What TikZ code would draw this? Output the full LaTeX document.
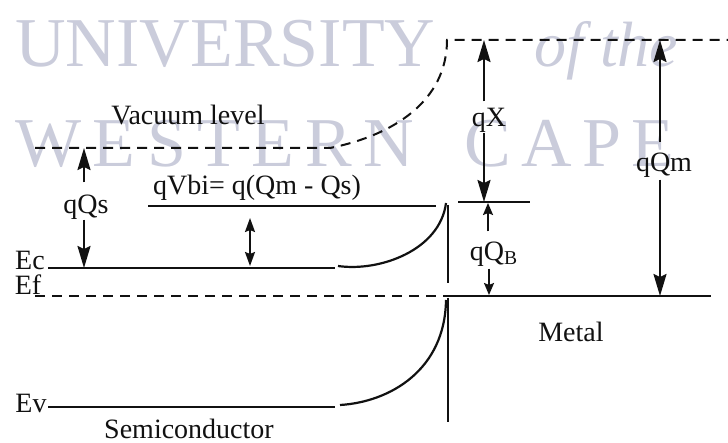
\documentclass[tikz,border=0pt]{standalone}
\usepackage{fontspec}
\setmainfont{Liberation Serif}
\usetikzlibrary{arrows.meta}
\usetikzlibrary{positioning}
\definecolor{sbMark}{RGB}{202,204,219}
\definecolor{sbInk}{HTML}{111111}
\tikzset{
  sb level/.style={
    draw=sbInk,
    line width=1.1pt,
  },
}
\tikzset{
  sb dashed/.style={
    draw=sbInk,
    line width=1pt,
    dash pattern=on 5pt off 3.5pt,
  },
}
\tikzset{
  sb label/.style={
    inner sep=0pt,
    text=sbInk,
    font=\fontsize{14}{16}\selectfont,
  },
}
\tikzset{
  sb arrow/.style={
    -{Stealth[length=11pt,width=6.5pt,inset=1.5pt]},
    draw=sbInk,
    line width=1pt,
  },
}
\tikzset{
  sb small arrow/.style={
    -{Stealth[length=6pt,width=5pt,inset=1pt]},
    draw=sbInk,
    line width=1pt,
  },
}
\tikzset{
  sb mark/.style={
    inner sep=0pt,
    text=sbMark,
    font=\fontsize{35}{40}\selectfont,
  },
}
\tikzset{
  sb figure/.style={
    x=0.5pt,
    y=-0.5pt,
  },
}

\begin{document}
\begin{tikzpicture}[sb figure]
  \useasboundingbox (0,0) rectangle (728,443);

  % =========================================================================
  % Watermark behind the diagram
  % =========================================================================
  \node[sb mark, anchor=base west] (markUniv) at (15,67)
    {\makebox[202.5pt][s]{U\hfill N\hfill I\hfill V\hfill E\hfill R\hfill S\hfill I\hfill T\hfill Y}};
  \node[sb mark, anchor=base west, font=\fontsize{32}{36}\selectfont\itshape] (markOf) at (534,67) {of the};
  \node[sb mark, anchor=base west] (markWest) at (15,167)
    {\makebox[199.5pt][s]{W\hfill E\hfill S\hfill T\hfill E\hfill R\hfill N}};
  \node[sb mark, anchor=base west] (markCape) at (464,167)
    {\makebox[105pt][s]{C\hfill A\hfill P\hfill E}};

  % =========================================================================
  % Level coordinates
  % =========================================================================
  \coordinate (vacL)   at (35,148);
  \coordinate (vacR)   at (728,40);
  \coordinate (ecL)    at (48,268);
  \coordinate (ecR)    at (335,268);
  \coordinate (evL)    at (48,407);
  \coordinate (evR)    at (335,407);
  \coordinate (efL)    at (35,296);
  \coordinate (iface)  at (448,296);
  \coordinate (metalR) at (711,296);
  \coordinate (vbiL)   at (148,206);
  \coordinate (vbiR)   at (436,206);
  \coordinate (barL)   at (458,202);
  \coordinate (barR)   at (530,202);

  % =========================================================================
  % Vacuum level (dashed, bending up to the metal side)
  % =========================================================================
  \draw[sb dashed]
    (vacL) -- (330,148)
    .. controls (395,135) and (447,100) .. (447,40)
    -- (vacR);
  \node[sb label] (vacuum) at (188,115) {Vacuum level};

  % =========================================================================
  % Semiconductor bands
  % =========================================================================
  \draw[sb level] (ecL) -- (ecR);
  \draw[sb level] (338,266) .. controls (380,272) and (440,250) .. (446,203);
  \draw[sb level] (evL) -- (evR);
  \draw[sb level] (340,405) .. controls (390,402) and (445,370) .. (446,300);
  \draw[sb level] (vbiL) -- (vbiR);
  \draw[sb dashed] (efL) -- (iface);

  \node[sb label] (ec) at (30,260) {Ec};
  \node[sb label] (ef) at (28,285) {Ef};
  \node[sb label] (ev) at (31,403) {Ev};
  \node[sb label] (semi) at (189,429) {Semiconductor};

  % =========================================================================
  % Interface and metal
  % =========================================================================
  \draw[sb level, line width=0.9pt] (448,205) -- (448,283);
  \draw[sb level, line width=0.9pt] (448,298) -- (448,422);
  \draw[sb level] (iface) -- (metalR);
  \draw[sb level, line width=0.9pt] (barL) -- (barR);
  \node[sb label] (metal) at (571,332) {Metal};

  % =========================================================================
  % qQs
  % =========================================================================
  \coordinate (qsTop) at (84,148);
  \coordinate (qsBot) at (84,268);
  \node[sb label] (lQs) at (86,207) {qQs};
  \draw[sb arrow] ([yshift=6pt]lQs.north -| qsTop) -- (qsTop);
  \draw[sb arrow] (lQs.south -| qsTop) -- (qsBot);

  % =========================================================================
  % qVbi
  % =========================================================================
  \node[sb label] (lVbi) at (257,188) {qVbi= q(Qm - Qs)};
  \coordinate (vbiTop) at (250,218);
  \coordinate (vbiBot) at (250,266);
  \draw[{Stealth[length=7pt,width=5pt,inset=1pt]}-{Stealth[length=7pt,width=5pt,inset=1pt]},
        draw=sbInk, line width=1pt] (vbiTop) -- (vbiBot);

  % =========================================================================
  % qX
  % =========================================================================
  \coordinate (xTop) at (484,40);
  \coordinate (xBot) at (484,202);
  \node[sb label] (lX) at (489,120) {qX};
  \draw[sb arrow] ([yshift=3pt]lX.north -| xTop) -- (xTop);
  \draw[sb arrow] (lX.south -| xTop) -- (xBot);

  % =========================================================================
  % qQm
  % =========================================================================
  \coordinate (qmTop) at (660,40);
  \coordinate (qmBot) at (660,296);
  \node[sb label] (lQm) at (664,165) {qQm};
  \draw[sb arrow] ([yshift=5pt]lQm.north -| qmTop) -- (qmTop);
  \draw[sb arrow] ([yshift=-1pt]lQm.south -| qmTop) -- (qmBot);

  % =========================================================================
  % qQB
  % =========================================================================
  \coordinate (qbTop) at (488,203);
  \coordinate (qbBot) at (489,295);
  \node[sb label] (lQB) at (494,254) {qQ\textsubscript{B}};
  \draw[sb small arrow] ([yshift=5pt]lQB.north -| qbTop) -- (qbTop);
  \draw[sb small arrow] ([yshift=-1pt]lQB.south -| qbBot) -- (qbBot);

\end{tikzpicture}
\end{document}
